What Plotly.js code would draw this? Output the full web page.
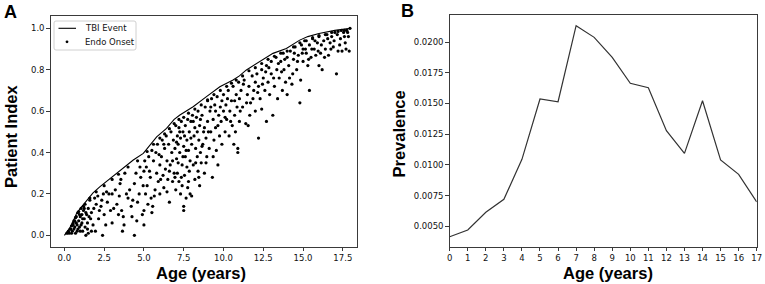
<!DOCTYPE html>
<html>
<head>
<meta charset="utf-8">
<script src="https://cdn.plot.ly/plotly-3.0.1.min.js"></script>
<style>html,body{margin:0;padding:0;background:#fff;}#chart{width:765px;height:284px;}</style>
</head>
<body>
<div id="chart"></div>
<script>
// Panel A: TBI event cumulative curve (age, patient index)
const tbiAge   = [0,0.3,0.5,0.77,1.0,1.4,1.8,2.24,2.8,3.29,3.8,4.33,4.96,5.4,5.8,6.42,6.9,7.26,8.09,8.93,9.77,10.6,11.0,11.44,12.28,13.11,13.95,14.79,15.3,16.0,17.0,17.97];
const tbiIndex = [0,0.03,0.06,0.106,0.13,0.17,0.205,0.235,0.27,0.30,0.33,0.364,0.396,0.44,0.476,0.517,0.56,0.581,0.621,0.670,0.718,0.750,0.77,0.799,0.839,0.879,0.903,0.943,0.96,0.975,0.99,1.0];

// Panel A: endocrine onset points
const endoAge = [
 0.2,0.3,0.35,0.4,0.45,0.5,0.5,0.55,0.6,0.6,0.65,0.7,0.7,0.75,0.8,0.8,0.85,0.9,0.9,0.95,1.0,1.0,
 1.05,1.1,1.1,1.15,1.2,1.25,1.3,1.3,1.35,1.4,1.45,1.5,1.5,1.6,1.65,1.7,1.8,1.9,1.95,
 2.0,2.1,2.2,2.3,2.4,2.45,2.5,2.6,2.7,2.8,2.9,3.0,3.0,
 3.2,3.3,3.4,3.5,3.55,3.6,3.7,3.75,3.8,3.9,4.0,
 4.2,4.3,4.4,4.4,4.5,4.55,4.7,4.8,4.9,5.0,5.0,5.0,
 5.1,5.15,5.2,5.3,5.4,5.45,5.5,5.55,5.6,5.7,5.75,5.8,5.85,5.9,6.0,6.0,
 6.1,6.15,6.2,6.25,6.3,6.35,6.4,6.45,6.5,6.55,6.6,6.65,6.7,6.75,6.8,6.85,6.9,6.95,7.0,7.0,7.05,
 7.1,7.1,7.15,7.2,7.2,7.25,7.3,7.3,7.35,7.4,7.4,7.45,7.5,7.5,7.5,7.55,7.6,7.6,7.65,7.7,7.7,7.75,7.8,7.8,7.85,7.9,7.9,7.95,8.0,8.0,
 8.05,8.1,8.15,8.2,8.2,8.25,8.3,8.35,8.4,8.4,8.45,8.5,8.5,8.55,8.6,8.65,8.7,8.75,8.8,8.85,8.9,8.95,9.0,9.0,
 9.1,9.15,9.2,9.25,9.3,9.35,9.4,9.45,9.5,9.55,9.6,9.65,9.7,9.75,9.8,9.85,9.9,10.0,10.0,
 10.1,10.15,10.2,10.3,10.35,10.4,10.5,10.55,10.6,10.65,10.7,10.8,10.85,10.9,10.9,10.95,11.0,11.0,
 11.1,11.2,11.3,11.4,11.5,11.55,11.6,11.7,11.8,11.9,12.0,12.0,
 12.1,12.2,12.2,12.3,12.4,12.4,12.5,12.6,12.7,12.7,12.8,12.9,13.0,13.0,
 13.1,13.2,13.3,13.35,13.4,13.5,13.6,13.7,13.75,13.8,13.9,14.0,14.0,
 14.1,14.2,14.3,14.35,14.4,14.5,14.6,14.7,14.8,14.85,14.9,15.0,15.0,
 15.1,15.2,15.3,15.4,15.4,15.5,15.6,15.7,15.8,15.9,16.0,16.0,
 16.1,16.2,16.3,16.4,16.5,16.6,16.7,16.8,16.9,17.0,
 17.1,17.2,17.3,17.4,17.45,17.6,17.7,17.8,17.9,17.95,
 0.15,0.25,0.45,0.55,0.65,0.75,0.85,0.95,1.05,1.15,1.25,1.35,1.45,1.55,1.7,1.85,
 2.15,2.35,2.65,3.1,3.45,3.65,4.1,4.25,4.6,4.75,4.95,
 5.05,5.25,5.35,5.5,5.65,5.95,6.05,6.25,6.45,6.6,6.8,6.95,
 7.05,7.15,7.25,7.35,7.45,7.55,7.65,7.75,7.85,7.95,8.1,8.25,8.35,8.45,8.55,8.65,8.8,8.9,
 9.05,9.2,9.35,9.5,9.65,9.9,10.1,10.25,10.45,10.7,10.75,11.05,11.25,11.45,11.65,11.85,
 12.15,12.45,12.65,12.85,13.15,13.45,13.65,13.85,14.15,14.45,14.65,14.95,15.15,15.35,15.55,15.75,15.95,
 16.15,16.35,16.55,16.75,16.95,17.15,17.35,17.55,17.65,17.85,17.75,
 1.2,1.6,2.0,2.5,3.0,3.4,4.0,4.6,5.2,5.6,6.0,6.3,6.6,6.9,7.2,7.5,7.8,8.2,8.6,9.0,9.4,9.8,
 10.2,10.5,10.8,11.2,11.6,12.0,12.4,12.8,13.2,13.6,14.0,14.4,14.8,15.2,15.6,16.0,16.4,16.8,17.2,17.6
];
const endoIndex = [
 0.012,0.01,0.03,0.03,0.045,0.02,0.05,0.05,0.07,0.03,0.07,0.085,0.01,0.09,0.05,0.02,0.11,0.07,0.115,0.04,0.09,0.02,
 0.13,0.06,0.1,0.02,0.12,0.08,0.04,0.15,0.0,0.1,0.06,0.01,0.13,0.17,0.08,0.11,0.05,0.18,0.02,
 0.15,0.19,0.12,0.14,0.0,0.2,0.1,0.05,0.16,0.2,0.12,0.2,0.06,
 0.22,0.15,0.1,0.25,0.27,0.12,0.09,0.05,0.3,0.2,0.18,
 0.14,0.17,0.25,0.0,0.3,0.07,0.2,0.28,0.1,0.12,0.05,0.31,
 0.2,0.33,0.24,0.38,0.28,0.18,0.11,0.14,0.36,0.22,0.4,0.3,0.44,0.26,0.34,0.2,
 0.38,0.46,0.29,0.23,0.42,0.32,0.48,0.36,0.27,0.44,0.16,0.34,0.5,0.4,0.26,0.46,0.3,0.42,0.53,0.22,0.37,
 0.48,0.3,0.44,0.52,0.26,0.4,0.47,0.2,0.55,0.34,0.24,0.5,0.14,0.12,0.43,0.29,0.38,0.53,0.18,0.46,0.33,0.56,0.41,0.26,0.5,0.2,0.36,0.55,0.44,0.19,
 0.58,0.34,0.48,0.52,0.27,0.42,0.57,0.38,0.31,0.6,0.46,0.24,0.53,0.4,0.35,0.58,0.44,0.5,0.3,0.62,0.47,0.38,0.55,0.65,
 0.42,0.6,0.5,0.66,0.28,0.56,0.46,0.63,0.52,0.41,0.67,0.34,0.58,0.48,0.62,0.55,0.44,0.68,0.6,
 0.5,0.63,0.56,0.7,0.48,0.6,0.65,0.53,0.72,0.44,0.58,0.68,0.62,0.42,0.4,0.74,0.66,0.55,
 0.7,0.62,0.75,0.54,0.68,0.53,0.72,0.64,0.77,0.7,0.6,0.74,
 0.78,0.47,0.72,0.66,0.8,0.61,0.76,0.7,0.55,0.82,0.74,0.68,0.84,0.78,
 0.58,0.72,0.86,0.8,0.66,0.76,0.84,0.7,0.88,0.8,0.74,0.86,0.68,
 0.82,0.89,0.73,0.78,0.85,0.91,0.8,0.87,0.64,0.75,0.92,0.84,0.9,
 0.94,0.88,0.82,0.7,0.92,0.86,0.95,0.9,0.87,0.93,0.82,0.96,
 0.88,0.8,0.94,0.9,0.97,0.87,0.93,0.96,0.91,0.98,
 0.78,0.89,0.92,0.99,0.89,0.96,0.9,0.98,0.89,1.0,
 0.01,0.02,0.01,0.06,0.04,0.06,0.03,0.1,0.05,0.08,0.13,0.11,0.03,0.09,0.02,0.13,
 0.08,0.17,0.21,0.13,0.19,0.02,0.22,0.09,0.16,0.33,0.24,
 0.36,0.15,0.31,0.41,0.19,0.39,0.27,0.44,0.21,0.31,0.36,0.28,
 0.45,0.35,0.5,0.28,0.38,0.48,0.41,0.23,0.31,0.47,0.55,0.35,0.5,0.28,0.56,0.43,0.52,0.35,
 0.5,0.62,0.38,0.6,0.53,0.65,0.57,0.66,0.55,0.65,0.5,0.6,0.73,0.64,0.58,0.66,
 0.69,0.73,0.79,0.81,0.76,0.83,0.79,0.85,0.76,0.88,0.84,0.88,0.9,0.85,0.9,0.94,0.89,
 0.92,0.86,0.95,0.9,0.94,0.97,0.95,0.98,0.93,0.96,0.99,
 0.14,0.18,0.21,0.24,0.27,0.295,0.33,0.36,0.405,0.44,0.47,0.49,0.515,0.54,0.56,0.57,0.59,0.61,0.63,0.655,0.68,0.70,
 0.72,0.735,0.75,0.77,0.795,0.81,0.83,0.85,0.865,0.88,0.89,0.91,0.93,0.94,0.955,0.965,0.97,0.98,0.985,0.99
];

// Panel B: prevalence by age
const prevAge = [0,1,2,3,4,5,6,7,8,9,10,11,12,13,14,15,16,17];
const prevalence = [0.00415,0.0047,0.00614,0.0072,0.01045,0.01536,0.01514,0.02133,0.02038,0.01875,0.01664,0.01628,0.01278,0.01094,0.01522,0.0104,0.00923,0.00698];

// Tick labels and legend labels
const aXTicks = [0,2.5,5,7.5,10,12.5,15,17.5];
const aYTicks = [0,0.2,0.4,0.6,0.8,1.0];
const bXTicks = prevAge;
const bYTicks = [0.005,0.0075,0.01,0.0125,0.015,0.0175,0.02];
const legendLabels = ['TBI Event', 'Endo Onset'];

const W = 765, H = 284;
const px = v => v / W;
const py = v => 1 - v / H;

const tickFont = {family: 'DejaVu Sans', size: 8.5, color: '#111'};
const titleFont = {family: 'Liberation Sans, Arial', size: 16.5, color: '#000', weight: 'bold'};

const axisCommon = {
  showgrid: false, zeroline: false, showline: true, mirror: true,
  linecolor: '#3a3a3a', linewidth: 1, ticks: 'outside', ticklen: 3.5,
  tickcolor: '#3a3a3a', tickwidth: 1, tickfont: tickFont
};

const data = [
  {x: tbiAge, y: tbiIndex, type: 'scatter', mode: 'lines', name: legendLabels[0],
   line: {color: '#000', width: 1.1}, xaxis: 'x', yaxis: 'y'},
  {x: endoAge, y: endoIndex, type: 'scatter', mode: 'markers', name: legendLabels[1],
   marker: {color: '#000', size: 3.2}, xaxis: 'x', yaxis: 'y'},
  {x: prevAge, y: prevalence, type: 'scatter', mode: 'lines',
   line: {color: '#333', width: 1.2}, xaxis: 'x2', yaxis: 'y2'}
];

// Legend box (matplotlib-like, rounded corners), drawn in paper coords
const lx0 = 54, lx1 = 136, ly0 = 21, ly1 = 50, r = 2;
const boxPath = `M ${px(lx0 + r)},${py(ly0)} L ${px(lx1 - r)},${py(ly0)} Q ${px(lx1)},${py(ly0)} ${px(lx1)},${py(ly0 + r)} ` +
  `L ${px(lx1)},${py(ly1 - r)} Q ${px(lx1)},${py(ly1)} ${px(lx1 - r)},${py(ly1)} L ${px(lx0 + r)},${py(ly1)} ` +
  `Q ${px(lx0)},${py(ly1)} ${px(lx0)},${py(ly1 - r)} L ${px(lx0)},${py(ly0 + r)} Q ${px(lx0)},${py(ly0)} ${px(lx0 + r)},${py(ly0)} Z`;

const shapes = [
  {type: 'path', xref: 'paper', yref: 'paper', path: boxPath,
   line: {color: '#d0d0d0', width: 1}, fillcolor: 'rgba(255,255,255,0.85)'},
  {type: 'line', xref: 'paper', yref: 'paper', x0: px(58.5), x1: px(76), y0: py(28.3), y1: py(28.3),
   line: {color: '#000', width: 1.1}},
  {type: 'circle', xref: 'paper', yref: 'paper', x0: px(65.6), x1: px(68.4), y0: py(40.4), y1: py(43.2),
   line: {color: '#000', width: 0}, fillcolor: '#000'}
];

const legendFont = {family: 'DejaVu Sans', size: 8.5, color: '#111'};

const layout = {
  width: W, height: H,
  margin: {l: 0, r: 0, t: 0, b: 0},
  paper_bgcolor: '#fff', plot_bgcolor: '#fff',
  showlegend: false,
  shapes: shapes,
  xaxis: Object.assign({}, axisCommon, {domain: [px(50.7), px(357)], range: [-0.86, 18.39],
    tickvals: aXTicks, ticktext: aXTicks.map(v => v.toFixed(1)), anchor: 'y'}),
  yaxis: Object.assign({}, axisCommon, {domain: [py(246.7), py(15.7)], range: [-0.055, 1.061],
    tickvals: aYTicks, ticktext: aYTicks.map(v => v.toFixed(1)), anchor: 'x'}),
  xaxis2: Object.assign({}, axisCommon, {domain: [px(449.7), px(756.7)], range: [0, 17],
    tickvals: bXTicks, ticktext: bXTicks.map(String), anchor: 'y2'}),
  yaxis2: Object.assign({}, axisCommon, {domain: [py(246.7), py(15)], range: [0.00334, 0.0222],
    tickvals: bYTicks, ticktext: bYTicks.map(v => v.toFixed(4)), anchor: 'x2'}),
  annotations: [
    {text: legendLabels[0], xref: 'paper', yref: 'paper', x: px(82.5), y: py(28.3), xanchor: 'left', yanchor: 'middle',
     showarrow: false, font: legendFont},
    {text: legendLabels[1], xref: 'paper', yref: 'paper', x: px(82.5), y: py(41.8), xanchor: 'left', yanchor: 'middle',
     showarrow: false, font: legendFont},
    {text: 'A', xref: 'paper', yref: 'paper', x: px(10.5), y: py(11.5), xanchor: 'center', yanchor: 'middle',
     showarrow: false, font: {family: 'Liberation Sans, Arial', size: 18, color: '#000', weight: 'bold'}},
    {text: 'B', xref: 'paper', yref: 'paper', x: px(407.5), y: py(11), xanchor: 'center', yanchor: 'middle',
     showarrow: false, font: {family: 'Liberation Sans, Arial', size: 18, color: '#000', weight: 'bold'}},
    {text: 'Age (years)', xref: 'paper', yref: 'paper', x: px(201), y: py(273), xanchor: 'center', yanchor: 'middle',
     showarrow: false, font: titleFont},
    {text: 'Age (years)', xref: 'paper', yref: 'paper', x: px(608), y: py(273), xanchor: 'center', yanchor: 'middle',
     showarrow: false, font: titleFont},
    {text: 'Patient Index', xref: 'paper', yref: 'paper', x: px(11), y: py(136), xanchor: 'center', yanchor: 'middle',
     textangle: -90, showarrow: false, font: titleFont},
    {text: 'Prevalence', xref: 'paper', yref: 'paper', x: px(398.5), y: py(134), xanchor: 'center', yanchor: 'middle',
     textangle: -90, showarrow: false, font: titleFont}
  ]
};

Plotly.newPlot('chart', data, layout, {staticPlot: true, displayModeBar: false});
</script>
</body>
</html>
